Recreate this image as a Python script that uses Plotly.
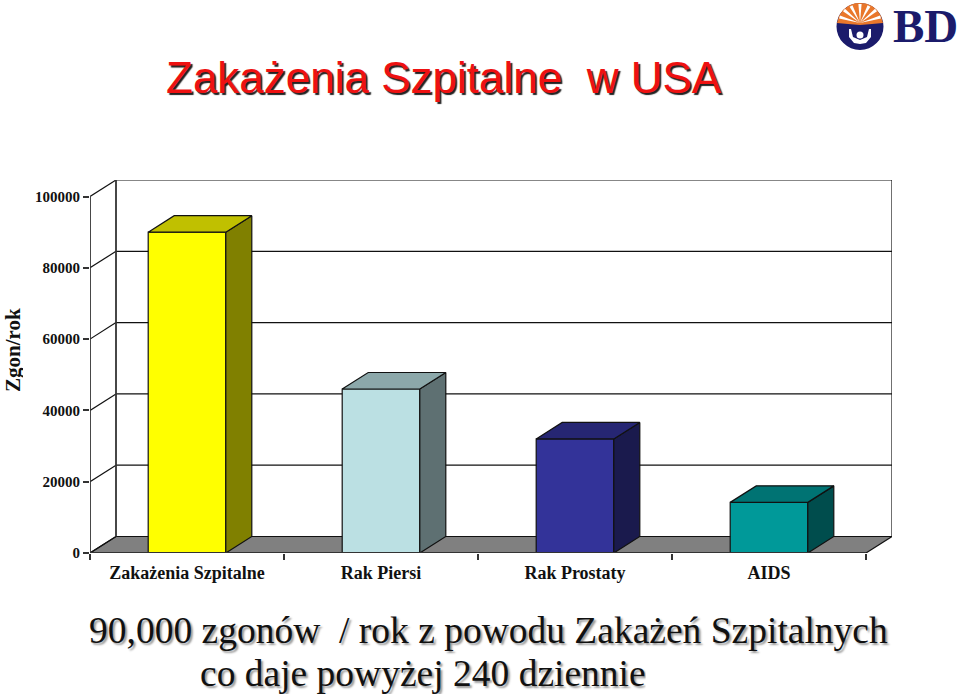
import plotly.graph_objects as go

categories = ["Zakażenia Szpitalne", "Rak Piersi", "Rak Prostaty", "AIDS"]
values = [90000, 46000, 32000, 14200]
front_colors = ["#FFFF00", "#BBE0E3", "#333399", "#009999"]
side_colors = ["#808000", "#5E7072", "#1A1A4D", "#004D4D"]
top_colors = ["#C0C000", "#8CA8AA", "#262673", "#007373"]
y_ticks = [0, 20000, 40000, 60000, 80000, 100000]
title_text = "Zakażenia Szpitalne\u00a0\u00a0w USA"
y_title = "Zgon/rok"
note_1 = "90,000 zgonów\u00a0\u00a0/ rok z powodu Zakażeń Szpitalnych"
note_2 = "co daje powyżej 240 dziennie"

W, H = 960, 696
DX, DY = 0.134, 4630   # depth of the 3D box in axis units
BAR_W = 0.4
LINE = "#111111"
SERIF = "Liberation Serif"


def px(x):
    return x / W


def py(y):
    return 1 - y / H


fig = go.Figure()

shapes = []


def wall_line(x0, y0, x1, y1, color=LINE, width=1.2):
    shapes.append(dict(type="line", xref="x", yref="y", x0=x0, y0=y0, x1=x1, y1=y1,
                       layer="below", line=dict(color=color, width=width)))


n = len(categories)
# floor
shapes.append(dict(type="path", xref="x", yref="y", layer="below",
                   path=f"M0,0 L{n},0 L{n + DX},{DY} L{DX},{DY} Z",
                   fillcolor="#808080", line=dict(color=LINE, width=1.2)))
for t in y_ticks:
    wall_line(0, t, DX, t + DY)
    if t:
        wall_line(DX, t + DY, n + DX, t + DY)
wall_line(DX, DY, DX, 100000 + DY, color="#333333", width=1.8)
wall_line(n + DX, DY, n + DX, 100000 + DY)

fig.add_trace(go.Bar(x=[i + 0.5 for i in range(n)], y=values, width=BAR_W,
                     marker=dict(color=front_colors, line=dict(color=LINE, width=1.2)),
                     hoverinfo="skip"))

for i, v in enumerate(values):
    l, r = i + 0.5 - BAR_W / 2, i + 0.5 + BAR_W / 2
    fig.add_trace(go.Scatter(x=[r, r + DX, r + DX, r, r], y=[0, DY, v + DY, v, 0],
                             mode="lines", fill="toself", fillcolor=side_colors[i],
                             line=dict(color=LINE, width=1.2), hoverinfo="skip", cliponaxis=False))
    fig.add_trace(go.Scatter(x=[l, r, r + DX, l + DX, l], y=[v, v, v + DY, v + DY, v],
                             mode="lines", fill="toself", fillcolor=top_colors[i],
                             line=dict(color=LINE, width=1.2), hoverinfo="skip", cliponaxis=False))

# front axis lines
fig.add_trace(go.Scatter(x=[0, 0, n], y=[100000, 0, 0], mode="lines",
                         line=dict(color="#333333", width=1.8), hoverinfo="skip", cliponaxis=False))

fig.update_xaxes(domain=[px(90), px(892)], range=[0, n + DX], showgrid=False, zeroline=False,
                 automargin=False,
                 showline=False, tickmode="array", tickvals=[i + 0.5 for i in range(n)],
                 ticktext=categories, ticks="", ticklabelstandoff=7,
                 tickfont=dict(family=SERIF, size=18, color="#111111", weight=700),
                 minor=dict(tickmode="array", tickvals=list(range(n + 1)), ticks="outside",
                            ticklen=6, tickwidth=1.5, tickcolor="#333333"))
fig.update_yaxes(domain=[py(553), py(180)], range=[0, 100000 + DY], showgrid=False, zeroline=False,
                 automargin=False,
                 showline=False, tickmode="array", tickvals=y_ticks,
                 ticktext=[str(t) for t in y_ticks], ticks="outside", ticklen=6, tickwidth=1.5,
                 tickcolor="#333333", tickfont=dict(family=SERIF, size=15, color="#111111", weight=700))


def text(x, y, s, size, family, color, shadow="none", angle=0, bold=False, height=None):
    return dict(xref="paper", yref="paper", x=px(x), y=py(y), text=f"<b>{s}</b>" if bold else s,
                showarrow=False, xanchor="center", yanchor="middle", textangle=angle, height=height,
                font=dict(family=family, size=size, color=color, shadow=shadow))


NAVY = "#1B1B6B"
ORANGE = "#E9772B"
annotations = [
    text(444, 77, title_text, 44, "Liberation Sans", "#EE1111", "2px 2px 1px #222222"),
    text(12, 350, y_title, 21, SERIF, "#111111", angle=-90, bold=True, height=21),
    text(488, 630, note_1, 37.5, SERIF, "#111111", "2px 2px 2px #999999"),
    text(423, 673, note_2, 37.5, SERIF, "#111111", "2px 2px 2px #999999", height=42),
    text(925, 26, "BD", 47, SERIF, NAVY, bold=True),
]


# BD logo emblem, drawn in page pixels
def P(x, y):
    return f"{px(x):.5f},{py(y):.5f}"


def poly(points, fill):
    d = "M" + " L".join(P(x, y) for x, y in points) + " Z"
    shapes.append(dict(type="path", xref="paper", yref="paper", path=d, fillcolor=fill,
                       line=dict(width=0), layer="above"))


def circle(cx, cy, rx, ry, fill):
    shapes.append(dict(type="circle", xref="paper", yref="paper", x0=px(cx - rx), x1=px(cx + rx),
                       y0=py(cy + ry), y1=py(cy - ry), fillcolor=fill, line=dict(width=0),
                       layer="above"))


circle(860, 26.5, 23.5, 23.5, NAVY)
# orange top, built over the navy disc
poly([(837, 23), (839, 16), (843, 10), (849, 5.5), (855, 3.3), (860, 3), (866, 3.4), (872, 6),
      (877, 10), (881, 16), (883, 23), (872, 24), (860, 25), (848, 24)], ORANGE)
for tip in [(844, 10), (851, 6), (860, 4), (869, 6), (876, 10), (880.5, 17), (839.5, 17)]:
    cx, cy = 860, 23
    nx, ny = tip[1] - cy, cx - tip[0]
    ln = (nx * nx + ny * ny) ** 0.5
    poly([(cx, cy), (tip[0] + nx / ln * 1.6, tip[1] + ny / ln * 1.6),
          (tip[0] - nx / ln * 1.6, tip[1] - ny / ln * 1.6)], "#FFFFFF")
# white figure
poly([(849, 29), (851, 29), (853, 37), (860, 40), (867, 37), (869, 29), (871, 29), (871, 37),
      (866, 43), (860, 44), (854, 43), (849, 37)], "#FFFFFF")
circle(860, 35, 3.5, 3.5, "#FFFFFF")

fig.update_layout(width=W, height=H, margin=dict(l=0, r=0, t=0, b=0), paper_bgcolor="white",
                  plot_bgcolor="white", showlegend=False, shapes=shapes, annotations=annotations)

fig.write_html("out.html", config=dict(displayModeBar=False),
               post_script="document.body.style.margin='0';")
